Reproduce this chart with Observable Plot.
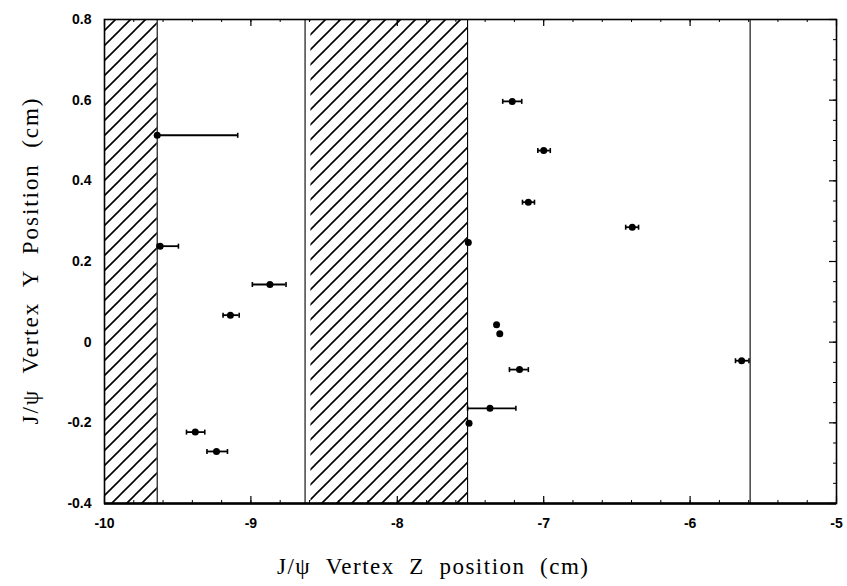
<!DOCTYPE html>
<html><head><meta charset="utf-8">
<script src="https://cdn.jsdelivr.net/npm/d3@7"></script>
<script src="https://cdn.jsdelivr.net/npm/@observablehq/plot@0.6"></script>
<style>html,body{margin:0;padding:0;background:#fff}</style>
</head><body><div id="chart"></div>
<script>
// Data
const zPos = [-9.64, -9.62, -8.87, -9.14, -9.38, -9.235, -7.215, -7.0, -7.105, -6.395, -7.322, -7.30, -7.165, -7.367, -7.51, -5.648, -7.515];
const yPos = [0.513, 0.238, 0.143, 0.067, -0.223, -0.271, 0.597, 0.475, 0.347, 0.285, 0.043, 0.021, -0.068, -0.164, -0.201, -0.046, 0.247];
const zLo  = [-9.64, -9.64, -8.99, -9.19, -9.44, -9.30, -7.28, -7.04, -7.145, -6.44, null, null, -7.234, -7.52, null, -5.69, null];
const zHi  = [-9.09, -9.495, -8.76, -9.08, -9.315, -9.16, -7.15, -6.955, -7.063, -6.352, null, null, -7.105, -7.19, null, -5.598, null];
const hatchStart = [-10, -8.59];
const hatchEnd = [-9.64, -7.52];
const boundaryLines = [-9.64, -8.63, -7.52, -5.59];
const xTickLabels = [-10, -9, -8, -7, -6, -5];
const yTickLabels = [-0.4, -0.2, 0, 0.2, 0.4, 0.6, 0.8];
const xTitle = "J/\u03C8  Vertex  Z  position  (cm)";
const yTitle = "J/\u03C8  Vertex  Y  Position  (cm)";

const W = 847, H = 586, mL = 104, mR = 11, mT = 19, mB = 83;
const fw = W - mL - mR, fh = H - mT - mB;
const points = zPos.map((z, i) => ({z, y: yPos[i], lo: zLo[i], hi: zHi[i]}));
const bars = points.filter(d => d.lo != null);
const hatches = hatchStart.map((s, i) => ({z1: s, z2: hatchEnd[i]}));
const xMinor = d3.range(-10, -5.0001, 0.2).map(v => +v.toFixed(2));
const yMajor = yTickLabels;
const yMinor = d3.range(-0.4, 0.8001, 0.05).map(v => +v.toFixed(3));
const cap = {draw(ctx) { ctx.moveTo(0, -2.5); ctx.lineTo(0, 2.5); }};
const HATCH = "#010203";
const serif = "Liberation Serif, Times New Roman, serif";
const sans = "Liberation Sans, Arial, sans-serif";

const chart = Plot.plot({
  width: W, height: H,
  marginLeft: mL, marginRight: mR, marginTop: mT, marginBottom: mB,
  x: {domain: [-10, -5]},
  y: {domain: [-0.4, 0.8]},
  style: {background: "white", color: "black"},
  marks: [
    Plot.rect(hatches, {x1: "z1", x2: "z2", fill: HATCH}),
    Plot.ruleX(boundaryLines, {stroke: "black", strokeWidth: 1.1}),
    // tick marks (inward)
    Plot.ruleX(xMinor, {insetTop: fh - 3, stroke: "black", strokeWidth: 1}),
    Plot.ruleX(xTickLabels, {insetTop: fh - 7, stroke: "black", strokeWidth: 1.2}),
    Plot.ruleX(xMinor, {insetBottom: fh - 3, stroke: "black", strokeWidth: 1}),
    Plot.ruleX(xTickLabels, {insetBottom: fh - 7, stroke: "black", strokeWidth: 1.2}),
    Plot.ruleY(yMinor, {insetLeft: fw - 3, stroke: "black", strokeWidth: 1}),
    Plot.ruleY(yMajor, {insetLeft: fw - 7, stroke: "black", strokeWidth: 1.2}),
    // error bars
    Plot.ruleY(bars, {y: "y", x1: "lo", x2: "hi", stroke: "black", strokeWidth: 1.8}),
    Plot.dot(bars, {x: "lo", y: "y", symbol: cap, stroke: "black", strokeWidth: 1.6}),
    Plot.dot(bars, {x: "hi", y: "y", symbol: cap, stroke: "black", strokeWidth: 1.6}),
    Plot.dot(points, {x: "z", y: "y", r: 3.5, fill: "black", stroke: "none"}),
    Plot.frame({stroke: "black", strokeWidth: 1.6}),
    Plot.ruleY([-0.4], {stroke: "black", strokeWidth: 2.4}),
    Plot.axisX({ticks: xTickLabels, tickSize: 0, tickPadding: 15, tickFormat: d => String(d),
      fontSize: 14, fontWeight: "bold", fontFamily: sans, label: null}),
    Plot.axisY({ticks: yTickLabels, tickSize: 0, tickPadding: 13, tickFormat: d => String(d),
      fontSize: 14, fontWeight: "bold", fontFamily: sans, label: null}),
    Plot.text([xTitle], {text: d => d, frameAnchor: "bottom", dy: 70, dx: -38, textAnchor: "middle",
      fontSize: 23, fontFamily: serif, fill: "black"}),
    Plot.text([yTitle], {text: d => d, frameAnchor: "left", dx: -74, rotate: -90, textAnchor: "middle",
      fontSize: 23, fontFamily: serif, fill: "black"})
  ]
});

const svg = d3.select(chart);
const defs = svg.insert("defs", ":first-child");
const pat = defs.append("pattern").attr("id", "hatch").attr("patternUnits", "userSpaceOnUse")
  .attr("width", 15).attr("height", 15);
pat.append("rect").attr("width", 15).attr("height", 15).attr("fill", "white");
pat.append("path").attr("d", "M-2,2 L2,-2 M0,15 L15,0 M13,17 L17,13")
  .attr("stroke", "black").attr("stroke-width", 1.6).attr("fill", "none");
svg.selectAll("[fill='" + HATCH + "']").attr("fill", "url(#hatch)");
svg.selectAll("text").filter(function() { return this.textContent === xTitle; })
  .style("white-space", "pre").attr("textLength", 311).attr("lengthAdjust", "spacing");
svg.selectAll("text").filter(function() { return this.textContent === yTitle; })
  .style("white-space", "pre").attr("textLength", 326).attr("lengthAdjust", "spacing");
document.getElementById("chart").appendChild(chart);
</script>
</body></html>
